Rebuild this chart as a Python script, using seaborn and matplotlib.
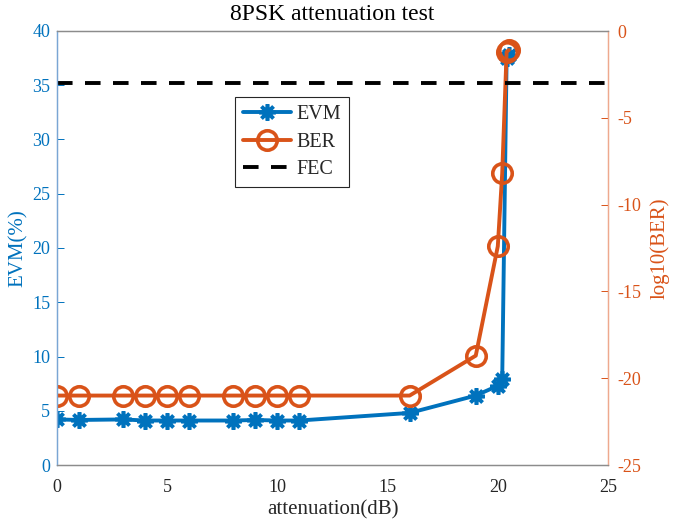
import matplotlib
matplotlib.use("Agg")
import matplotlib.pyplot as plt
import seaborn as sns
import pandas as pd

# Attenuation sweep (dB) and measured results
attenuation = [0, 1, 3, 4, 5, 6, 8, 9, 10, 11, 16, 19, 20, 20.2, 20.4, 20.5]
evm_percent = [4.2, 4.15, 4.2, 4.1, 4.1, 4.1, 4.1, 4.15, 4.1, 4.1, 4.8, 6.4, 7.3, 7.9, 37.5, 37.8]
log_ber = [-21, -21, -21, -21, -21, -21, -21, -21, -21, -21, -21, -18.7, -12.4, -8.2, -1.2, -1.1]
fec_limit = -3.0

x_ticks = [0, 5, 10, 15, 20, 25]
evm_ticks = [0, 5, 10, 15, 20, 25, 30, 35, 40]
ber_ticks = [-25, -20, -15, -10, -5, 0]

blue = "#0072BD"
orange = "#D95319"

sns.set_theme(style="white")
plt.rcParams["font.family"] = ["Liberation Serif", "DejaVu Serif"]
plt.rcParams["axes.unicode_minus"] = False

df = pd.DataFrame({"att": attenuation, "evm": evm_percent, "ber": log_ber})

fig = plt.figure(figsize=(6.73, 5.22), dpi=100)
ax = fig.add_axes([57 / 673, 1 - 465 / 522, 551 / 673, 434 / 522])
ax2 = ax.twinx()

sns.lineplot(data=df, x="att", y="evm", ax=ax, color=blue, lw=2.8,
             marker=(8, 2, 0), markersize=12, markeredgewidth=2.6,
             markeredgecolor=blue, label="EVM", legend=False)
sns.lineplot(data=df, x="att", y="ber", ax=ax2, color=orange, lw=2.8,
             marker="o", markersize=14, markeredgewidth=2.6,
             markerfacecolor="none", markeredgecolor=orange, label="BER",
             legend=False)
ax2.axhline(fec_limit, color="black", lw=2.8, ls=(0, (4, 3.2)), label="FEC")

ax.set_xlim(0, 25)
ax.set_ylim(0, 40)
ax2.set_ylim(-25, 0)
ax.set_xticks(x_ticks)
ax.set_yticks(evm_ticks)
ax2.set_yticks(ber_ticks)

ax.set_xlabel("attenuation(dB)", fontsize=15, color="#262626", labelpad=3)
ax.set_ylabel("EVM(%)", fontsize=15, color=blue, labelpad=3)
ax2.set_ylabel("log10(BER)", fontsize=15, color=orange, labelpad=6)
ax.set_title("8PSK attenuation test", fontsize=17, color="black", pad=8)

ax.tick_params(axis="x", direction="in", length=5, width=0.7,
               colors="#262626", labelsize=13, pad=10)
ax.tick_params(axis="y", direction="in", length=5, width=0.7,
               colors=blue, labelsize=13, pad=5)
ax2.tick_params(axis="y", direction="in", length=5, width=0.7,
                colors=orange, labelsize=13, pad=7)
ax2.tick_params(axis="x", length=0)

for a in (ax, ax2):
    a.spines["top"].set_color("#8c8c8c")
    a.spines["bottom"].set_color("#8c8c8c")
    a.spines["left"].set_color("#7aa6d4")
    a.spines["right"].set_color("#eea98e")
    for s in a.spines.values():
        s.set_linewidth(0.9)
ax.grid(False)
ax2.grid(False)

h1, l1 = ax.get_legend_handles_labels()
h2, l2 = ax2.get_legend_handles_labels()
leg = ax2.legend(h1 + h2, l1 + l2, loc="upper left",
                 bbox_to_anchor=(0.323, 0.848), fontsize=14.5, frameon=True,
                 fancybox=False, edgecolor="#262626", framealpha=1,
                 handlelength=2.4, handletextpad=0.25, borderpad=0.4,
                 labelspacing=0.42, borderaxespad=0)
leg.get_frame().set_linewidth(0.8)

fig.savefig("out.png", dpi=100)
